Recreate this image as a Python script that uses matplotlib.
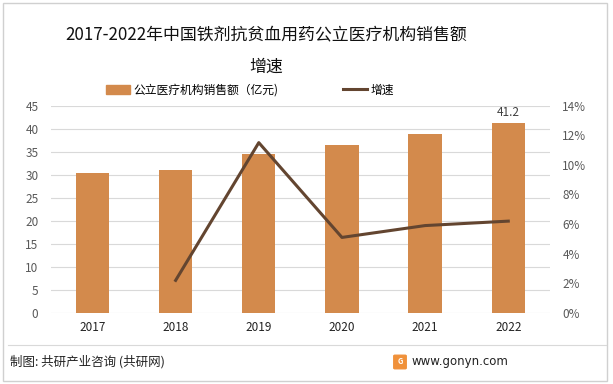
import matplotlib
matplotlib.use("Agg")
import matplotlib.pyplot as plt
from matplotlib.patches import Rectangle, FancyBboxPatch
from matplotlib.lines import Line2D
from matplotlib.ticker import FuncFormatter

plt.rcParams['font.family'] = ['Noto Sans CJK SC', 'DejaVu Sans']

years = ['2017', '2018', '2019', '2020', '2021', '2022']
sales = [30.3, 31.0, 34.4, 36.4, 38.8, 41.2]
growth = [None, 2.2, 11.5, 5.1, 5.9, 6.2]
bar_label = '公立医疗机构销售额（亿元)'
line_label = '增速'
title_line1 = '2017-2022年中国铁剂抗贫血用药公立医疗机构销售额'
title_line2 = '增速'
left_ticks = [0, 5, 10, 15, 20, 25, 30, 35, 40, 45]
right_ticks = [0, 2, 4, 6, 8, 10, 12, 14]

bar_color = '#D38A4C'
line_color = '#634530'

fig = plt.figure(figsize=(6.13, 3.84), dpi=100)
fig.patch.set_facecolor('white')

ax = fig.add_axes([0.083, 0.185, 0.814, 0.540])
x = list(range(len(years)))
ax.bar(x, sales, width=0.4, color=bar_color, zorder=2)
ax.set_xlim(-0.5, len(years) - 0.5)
ax.set_ylim(0, 45)
ax.set_yticks(left_ticks)
ax.grid(axis='y', color='#D9D9D9', linewidth=0.8, zorder=0)
ax.set_axisbelow(True)
for s in ax.spines.values():
    s.set_visible(False)
ax.set_xticks(x)
ax.set_xticklabels(years, fontsize=8.5, color='#222222')
ax.tick_params(axis='both', length=0)
ax.tick_params(axis='y', labelsize=8.5, labelcolor='#595959', pad=9)
ax.tick_params(axis='x', pad=6)
ax.text(x[-1], sales[-1] + 0.8, f'{sales[-1]}', ha='center', va='bottom',
        fontsize=8.5, color='#404040')

ax2 = ax.twinx()
gx = [xi for xi, g in zip(x, growth) if g is not None]
gy = [g for g in growth if g is not None]
ax2.plot(gx, gy, color=line_color, linewidth=2.2, zorder=3)
ax2.set_ylim(0, 14)
ax2.set_yticks(right_ticks)
ax2.yaxis.set_major_formatter(FuncFormatter(lambda v, p: f'{v:.0f}%'))
ax2.tick_params(axis='y', length=0, labelsize=8.5, labelcolor='#595959', pad=9)
for s in ax2.spines.values():
    s.set_visible(False)

# Title
fig.text(266 / 613, 1 - 34 / 384, title_line1,
         ha='center', va='center', fontsize=12.2, color='#111111')
fig.text(266 / 613, 1 - 67 / 384, title_line2, ha='center', va='center',
         fontsize=12.2, color='#111111')

# Legend
handles = [Rectangle((0, 0), 1, 1, color=bar_color),
           Line2D([0], [0], color=line_color, linewidth=2.2)]
fig.legend(handles, [bar_label, line_label], loc='center',
           bbox_to_anchor=(250 / 613, 1 - 90 / 384), ncol=2, frameon=False,
           fontsize=8.5, handlelength=2.0, handletextpad=0.3, columnspacing=5.5)

# Footer
fig.add_artist(Line2D([8 / 613, 606 / 613], [1 - 345 / 384, 1 - 345 / 384],
                      color='#D9D9D9', linewidth=0.8, transform=fig.transFigure))
fig.text(10 / 613, 1 - 362 / 384, '制图: 共研产业咨询 (共研网)', ha='left', va='center',
         fontsize=9, color='#222222')
fig.text(508 / 613, 1 - 362 / 384, 'www.gonyn.com', ha='right', va='center',
         fontsize=8.5, color='#222222', family=['DejaVu Sans'])
fig.add_artist(FancyBboxPatch((395 / 613, 1 - 368 / 384), 10 / 613, 12 / 384,
                              boxstyle='round,pad=0.002', color='#F0913A',
                              transform=fig.transFigure))
fig.text(400 / 613, 1 - 362 / 384, 'G', ha='center', va='center', fontsize=5.5,
         color='white', weight='bold')

# Border
fig.add_artist(Rectangle((3 / 613, 3 / 384), 604 / 613, 378 / 384, fill=False,
                         edgecolor='#D0D0D0', linewidth=1.0, transform=fig.transFigure))

fig.savefig('out.png', dpi=100)
